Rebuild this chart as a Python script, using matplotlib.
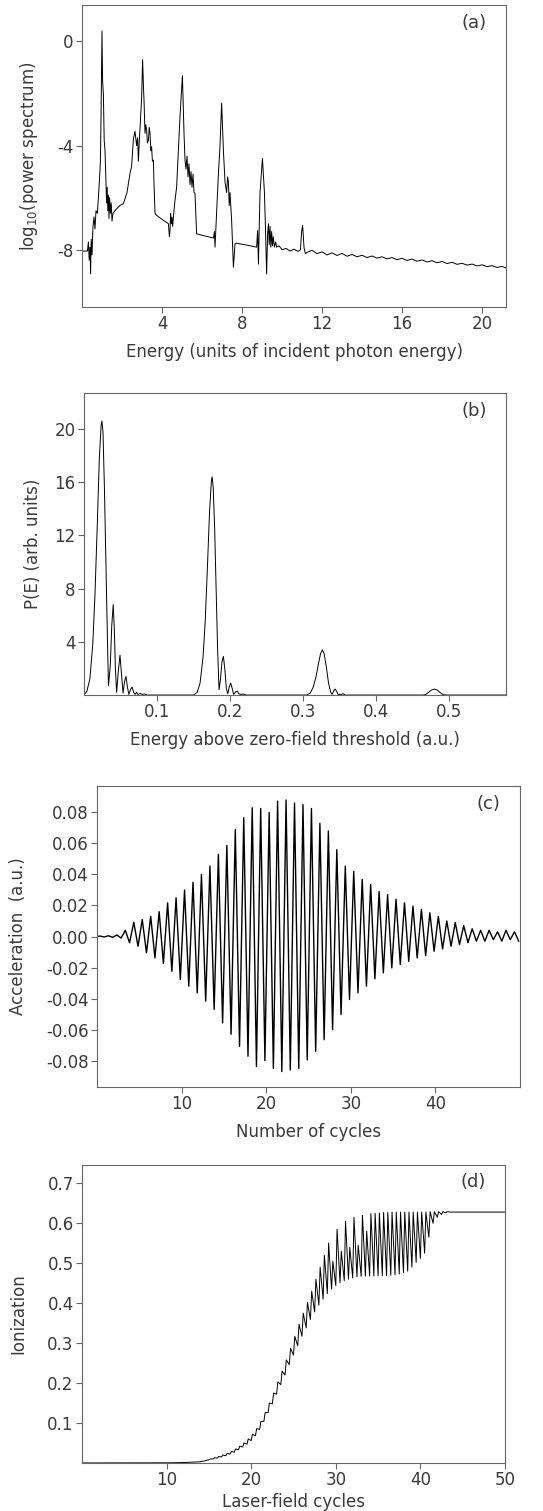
import numpy as np
import matplotlib
matplotlib.use("Agg")
import matplotlib.pyplot as plt

# ---------------- data ----------------
# (a) harmonic spectrum, log10(power) vs harmonic order
spec_x = [0.00, 0.27, 0.32, 0.36, 0.40, 0.43, 0.46, 0.50, 0.55, 0.60, 0.65, 0.70, 0.77, 0.82, 0.87,
          0.92, 0.95, 0.98, 1.00, 1.03, 1.07, 1.11, 1.15, 1.20, 1.23, 1.26, 1.29, 1.32, 1.35, 1.38,
          1.42, 1.46, 1.50, 1.55, 1.70, 1.90, 2.07, 2.25, 2.40, 2.48, 2.57, 2.65, 2.73, 2.78, 2.82,
          2.86, 2.90, 2.98, 3.03, 3.08, 3.10, 3.15, 3.19, 3.23, 3.27, 3.32, 3.36, 3.40, 3.44, 3.48,
          3.52, 3.57, 3.60, 3.65, 3.73, 4.07, 4.32, 4.37, 4.40, 4.43, 4.47, 4.50, 4.53, 4.57, 4.65,
          4.73, 4.82, 4.90, 5.02, 5.10, 5.15, 5.20, 5.25, 5.30, 5.35, 5.40, 5.45, 5.50, 5.55, 5.60,
          5.65, 5.73, 6.20, 6.57, 6.62, 6.65, 6.73, 6.82, 6.90, 6.98, 7.07, 7.15, 7.23, 7.28, 7.32,
          7.36, 7.40, 7.48, 7.57, 7.65, 7.73, 8.30, 8.73, 8.78, 8.82, 8.90, 9.02, 9.12, 9.18, 9.23,
          9.28, 9.32, 9.36, 9.40, 9.44, 9.48, 9.52, 9.56, 9.62, 9.68, 9.73, 9.85, 10.0, 10.2, 10.4,
          10.6, 10.8, 10.92, 10.98, 11.03, 11.10, 11.17,
          11.25, 11.5, 11.75, 12.0, 12.25, 12.5, 12.75, 13.0, 13.25, 13.5, 13.75, 14.0, 14.25, 14.5,
          14.75, 15.0, 15.25, 15.5, 15.75, 16.0, 16.25, 16.5, 16.75, 17.0, 17.25, 17.5, 17.75, 18.0,
          18.25, 18.5, 18.75, 19.0, 19.25, 19.5, 19.75, 20.0, 20.25, 20.5, 20.75, 21.0, 21.2]
spec_y = [-8.05, -8.05, -7.7, -8.4, -7.9, -8.93, -7.6, -8.2, -7.1, -6.74, -7.2, -6.5, -6.6, -6.0, -5.37,
          -4.6, -3.0, -1.0, 0.40, -1.5, -2.05, -3.8, -4.17, -5.4, -6.2, -5.6, -6.5, -5.9, -6.8, -6.0,
          -6.6, -6.2, -6.9, -6.6, -6.45, -6.3, -6.23, -5.8, -5.07, -4.8, -3.75, -3.45, -4.0, -3.7, -4.6,
          -3.9, -3.34, -2.2, -0.70, -1.9, -2.24, -3.53, -3.2, -3.4, -3.9, -3.8, -3.3, -3.53, -4.2, -4.04,
          -4.6, -4.56, -5.46, -6.6, -6.68, -6.87, -7.0, -7.5, -7.26, -6.6, -7.0, -6.75, -7.1, -6.74, -6.1,
          -5.6, -4.17, -2.88, -1.31, -3.53, -4.56, -4.9, -4.4, -5.2, -4.7, -5.5, -5.0, -5.6, -5.1, -5.8,
          -5.84, -7.39, -7.48, -7.55, -7.3, -7.9, -6.6, -5.07, -4.0, -2.37, -4.2, -5.4, -5.8, -5.2, -5.4,
          -6.3, -5.8, -6.87, -8.67, -7.77, -7.75, -7.83, -7.9, -7.26, -8.55, -5.8, -4.49, -5.8, -7.4, -8.93,
          -7.39, -7.0, -7.8, -7.1, -7.9, -7.3, -7.85, -7.5, -7.9, -7.7, -7.9, -7.85, -8.0, -7.95, -8.05,
          -7.98, -8.06, -8.0, -7.3, -7.06, -7.93, -8.15,
          -8.10, -8.02, -8.15, -8.08, -8.20, -8.12, -8.22, -8.14, -8.25, -8.18, -8.27, -8.21, -8.30, -8.24,
          -8.32, -8.27, -8.35, -8.30, -8.38, -8.33, -8.41, -8.36, -8.44, -8.39, -8.47, -8.42, -8.50, -8.45,
          -8.53, -8.48, -8.56, -8.52, -8.59, -8.55, -8.62, -8.58, -8.65, -8.61, -8.68, -8.64, -8.70]

# (b) photoelectron spectrum P(E)
pe_x = [0.000, 0.004, 0.008, 0.012, 0.015, 0.018, 0.021, 0.0235, 0.0245, 0.026, 0.028, 0.030, 0.032,
        0.0335, 0.036, 0.038, 0.040, 0.0415, 0.043, 0.0447, 0.047, 0.0493, 0.0515, 0.0535, 0.0555,
        0.0575, 0.0595, 0.0615, 0.064, 0.066, 0.068, 0.070, 0.072, 0.074, 0.077, 0.080, 0.083, 0.086,
        0.150, 0.155, 0.159, 0.163, 0.166, 0.169, 0.172, 0.1745, 0.1755, 0.177, 0.179, 0.181, 0.183,
        0.185, 0.187, 0.189, 0.191, 0.193, 0.195, 0.197, 0.199, 0.201, 0.203, 0.205, 0.208, 0.210,
        0.212, 0.215, 0.218, 0.222,
        0.305, 0.310, 0.314, 0.318, 0.321, 0.324, 0.3265, 0.329, 0.332, 0.335, 0.338, 0.340, 0.342,
        0.344, 0.346, 0.348, 0.352, 0.355, 0.358,
        0.465, 0.468, 0.472, 0.476, 0.480, 0.484, 0.488, 0.492, 0.496, 0.578]
pe_y = [0.0, 0.3, 1.2, 3.8, 7.5, 12.5, 17.8, 20.3, 20.6, 19.8, 15.5, 10.0, 4.5,
        0.7, 2.2, 5.2, 6.8, 5.0, 2.0, 0.2, 1.8, 3.0, 1.5, 0.15, 1.0,
        1.4, 0.6, 0.05, 0.45, 0.6, 0.2, 0.05, 0.2, 0.05, 0.12, 0.05, 0.08, 0.0,
        0.0, 0.2, 0.9, 2.8, 5.5, 9.5, 13.8, 16.1, 16.4, 15.6, 12.5, 8.0, 3.5,
        0.4, 1.2, 2.5, 2.9, 1.9, 0.5, 0.1, 0.6, 0.9, 0.5, 0.05, 0.25, 0.3,
        0.1, 0.05, 0.08, 0.0,
        0.0, 0.15, 0.6, 1.4, 2.3, 3.1, 3.4, 3.1, 2.1, 0.9, 0.2, 0.05, 0.3,
        0.45, 0.3, 0.05, 0.05, 0.1, 0.0,
        0.0, 0.05, 0.2, 0.38, 0.45, 0.38, 0.18, 0.03, 0.0, 0.0]

# (c) dipole acceleration: positive / negative extremum of every optical cycle
acc_pos = [0.0003, 0.0005, 0.001, 0.004, 0.0092, 0.011, 0.013, 0.016, 0.0217, 0.025,
           0.030, 0.035, 0.040, 0.0454, 0.053, 0.0587, 0.069, 0.0766, 0.083, 0.0825,
           0.080, 0.0873, 0.088, 0.086, 0.085, 0.0825, 0.073, 0.068, 0.056, 0.0454,
           0.042, 0.0368, 0.0335, 0.029, 0.027, 0.024, 0.0217, 0.0196, 0.0175, 0.0153,
           0.013, 0.010, 0.009, 0.007, 0.005, 0.004, 0.004, 0.003, 0.004, 0.003]
acc_neg = [-0.0003, -0.0005, -0.001, -0.004, -0.0063, -0.0105, -0.0138, -0.0174, -0.0224, -0.0277,
           -0.032, -0.0363, -0.0417, -0.047, -0.0557, -0.063, -0.0708, -0.0772, -0.0837, -0.080,
           -0.085, -0.087, -0.086, -0.085, -0.0795, -0.074, -0.0665, -0.060, -0.0503, -0.0406,
           -0.0363, -0.032, -0.0273, -0.0234, -0.0202, -0.018, -0.016, -0.0138, -0.0123, -0.0095,
           -0.008, -0.0063, -0.0052, -0.004, -0.003, -0.003, -0.002, -0.003, -0.002, -0.003]

# (d) ionization: value before onset, then trough / crest of each half cycle from 14 to 44
ion_pre_x = [0.0, 10.0, 12.0, 13.0]
ion_pre_y = [0.0, 0.0003, 0.001, 0.002]
ion_trough = [0.003, 0.005, 0.008, 0.010, 0.012, 0.015, 0.018, 0.022, 0.027, 0.033,
              0.040, 0.047, 0.056, 0.068, 0.084, 0.104, 0.126, 0.148, 0.172, 0.196,
              0.220, 0.246, 0.270, 0.293, 0.317, 0.338, 0.359, 0.378, 0.395, 0.410,
              0.424, 0.435, 0.444, 0.451, 0.456, 0.460, 0.463, 0.466, 0.467, 0.468,
              0.468, 0.468, 0.468, 0.469, 0.469, 0.470, 0.471, 0.473, 0.476, 0.480,
              0.490, 0.502, 0.512, 0.525, 0.565, 0.600, 0.615, 0.622, 0.626, 0.628, 0.628]
ion_crest = [0.004, 0.006, 0.010, 0.013, 0.016, 0.020, 0.024, 0.029, 0.035, 0.042,
             0.050, 0.060, 0.072, 0.086, 0.104, 0.126, 0.150, 0.175, 0.203, 0.230,
             0.258, 0.287, 0.317, 0.347, 0.375, 0.402, 0.430, 0.460, 0.490, 0.520,
             0.550, 0.505, 0.585, 0.530, 0.605, 0.540, 0.615, 0.545, 0.620, 0.580,
             0.624, 0.625, 0.626, 0.627, 0.627, 0.628, 0.628, 0.628, 0.628, 0.628,
             0.628, 0.628, 0.628, 0.628, 0.629, 0.629, 0.629, 0.629, 0.629, 0.628, 0.628]
ion_final = 0.628

# ticks
a_xticks = [4, 8, 12, 16, 20]
a_yticks = [0, -4, -8]
b_xticks = [0.1, 0.2, 0.3, 0.4, 0.5]
b_yticks = [4, 8, 12, 16, 20]
c_xticks = [10, 20, 30, 40]
c_yticks = [0.08, 0.06, 0.04, 0.02, 0.00, -0.02, -0.04, -0.06, -0.08]
d_xticks = [10, 20, 30, 40, 50]
d_yticks = [0.1, 0.2, 0.3, 0.4, 0.5, 0.6, 0.7]

# ---------------- style ----------------
plt.rcParams['font.family'] = ['DejaVu Sans']
plt.rcParams['font.size'] = 12
plt.rcParams['axes.unicode_minus'] = False
TXT = '#3a3a3a'
FR = '#666666'

fig = plt.figure(figsize=(5.43, 15.11), dpi=100)


def style(ax, label):
    for s in ax.spines.values():
        s.set_color(FR)
        s.set_linewidth(0.8)
    ax.tick_params(direction='out', length=4, width=0.8, color=FR,
                   labelcolor=TXT, labelsize=12, pad=2)
    ax.text(0.925, 0.94, label, transform=ax.transAxes, ha='center', va='center',
            color=TXT, fontsize=13)


# (a)
ax = fig.add_axes([0.151, 0.7968, 0.781, 0.1999])
ax.plot(spec_x, spec_y, color='black', lw=0.7)
ax.set_xlim(0, 21.2)
ax.set_ylim(-10.2, 1.4)
ax.set_xticks(a_xticks)
ax.set_yticks(a_yticks)
ax.set_xlabel('Energy (units of incident photon energy)', color=TXT)
ax.set_ylabel('log$_{10}$(power spectrum)', color=TXT)
ax.xaxis.set_label_coords(0.5, -0.12)
ax.yaxis.set_label_coords(-0.1, 0.5)
style(ax, '(a)')

# (b)
ax = fig.add_axes([0.1547, 0.540, 0.777, 0.1999])
ax.plot(pe_x, pe_y, color='black', lw=0.7)
ax.set_xlim(0, 0.578)
ax.set_ylim(0, 22.7)
ax.set_xticks(b_xticks)
ax.set_yticks(b_yticks)
ax.set_xticklabels([f'{v:.1f}' for v in b_xticks])
ax.set_xlabel('Energy above zero-field threshold (a.u.)', color=TXT)
ax.set_ylabel('P(E) (arb. units)', color=TXT)
ax.xaxis.set_label_coords(0.5, -0.12)
ax.yaxis.set_label_coords(-0.1, 0.5)
style(ax, '(b)')

# (c) build the oscillation from the per-cycle extrema
cx = [0.0]
cy = [0.0]
for n in range(len(acc_pos)):
    cx += [n + 0.35, n + 0.85]
    cy += [acc_pos[n], acc_neg[n]]
ax = fig.add_axes([0.1786, 0.2806, 0.779, 0.1992])
ax.plot(cx, cy, color='black', lw=1.0)
ax.set_xlim(0, 50)
ax.set_ylim(-0.097, 0.097)
ax.set_xticks(c_xticks)
ax.set_yticks(c_yticks)
ax.set_yticklabels([f'{v:.2f}' for v in c_yticks])
ax.set_xlabel('Number of cycles', color=TXT)
ax.set_ylabel('Acceleration  (a.u.)', color=TXT)
ax.xaxis.set_label_coords(0.5, -0.12)
ax.yaxis.set_label_coords(-0.165, 0.5)
style(ax, '(c)')

# (d) build the ionization curve from the half-cycle troughs/crests
dx = list(ion_pre_x)
dy = list(ion_pre_y)
for k in range(len(ion_trough)):
    t = 14.0 + 0.5 * k
    dx += [t, t + 0.15]
    dy += [ion_trough[k], ion_crest[k]]
dx.append(50.0)
dy.append(ion_final)
ax = fig.add_axes([0.151, 0.0318, 0.779, 0.1975])
ax.plot(dx, dy, color='black', lw=0.7)
ax.set_xlim(0, 50)
ax.set_ylim(0, 0.747)
ax.set_xticks(d_xticks)
ax.set_yticks(d_yticks)
ax.set_yticklabels([f'{v:.1f}' for v in d_yticks])
ax.set_xlabel('Laser-field cycles', color=TXT)
ax.set_ylabel('Ionization', color=TXT)
ax.xaxis.set_label_coords(0.5, -0.1)
ax.yaxis.set_label_coords(-0.128, 0.5)
style(ax, '(d)')

fig.savefig('out.png', dpi=100)
